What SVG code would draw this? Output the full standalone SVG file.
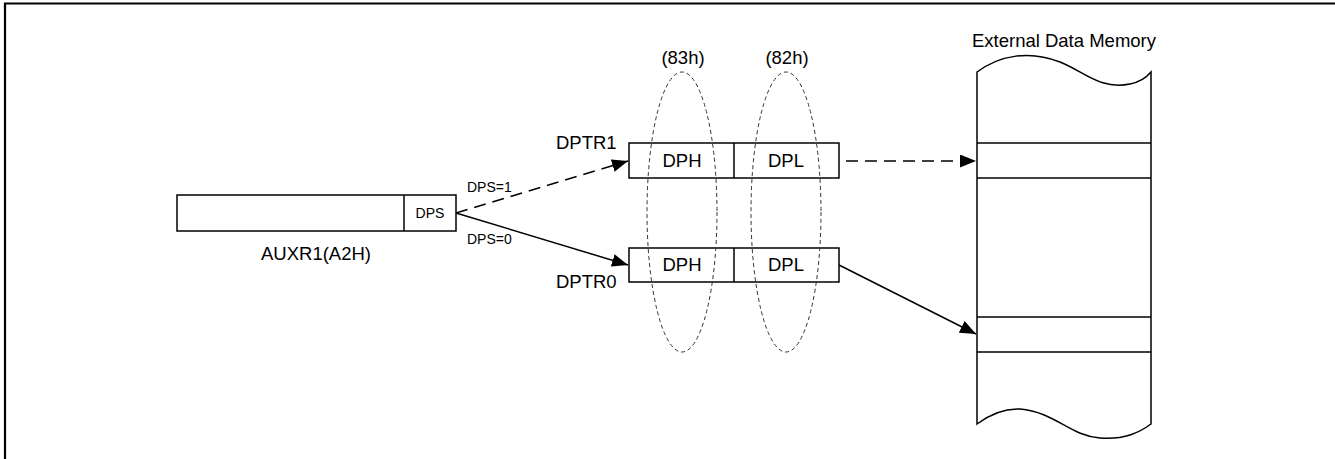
<svg xmlns="http://www.w3.org/2000/svg" width="1335" height="459" viewBox="0 0 1335 459">
<style>
text{font-family:"Liberation Sans",Arial,sans-serif;fill:#000}
.box{fill:#fff;stroke:#000;stroke-width:1.5}
.ln{fill:none;stroke:#000;stroke-width:1.5}
.big{font-size:18.5px}
.sm{font-size:14px}
.ell{fill:none;stroke:#333;stroke-width:1;stroke-dasharray:4 3}
</style>
<defs>
<marker id="ah" viewBox="0 0 16 13" refX="16" refY="6.5" markerWidth="16" markerHeight="13" markerUnits="userSpaceOnUse" orient="auto">
<path d="M0,0 L16,6.5 L0,13 Z" fill="#000"/>
</marker>
</defs>
<rect width="1335" height="459" fill="#fff"/>
<path d="M5,459 V3.5 H1335" fill="none" stroke="#000" stroke-width="2.2"/>

<g id="auxr1">
<rect class="box" x="177" y="195" width="279" height="36"/>
<line class="ln" x1="404" y1="195" x2="404" y2="231"/>
<text x="430" y="218" class="sm" text-anchor="middle">DPS</text>
<text x="316" y="260" class="big" text-anchor="middle">AUXR1(A2H)</text>
</g>

<g id="dptr1">
<rect class="box" x="629" y="143" width="210" height="35"/>
<line class="ln" x1="734" y1="143" x2="734" y2="178"/>
<text x="682" y="167" class="big" text-anchor="middle">DPH</text>
<text x="786" y="167" class="big" text-anchor="middle">DPL</text>
<text x="556" y="149" class="big">DPTR1</text>
</g>

<g id="dptr0">
<rect class="box" x="629" y="248" width="210" height="34"/>
<line class="ln" x1="734" y1="248" x2="734" y2="282"/>
<text x="682" y="271" class="big" text-anchor="middle">DPH</text>
<text x="786" y="271" class="big" text-anchor="middle">DPL</text>
<text x="556" y="288" class="big">DPTR0</text>
</g>

<g id="dph-group">
<ellipse class="ell" cx="682" cy="212" rx="35" ry="140"/>
<text x="683" y="64" class="big" text-anchor="middle">(83h)</text>
</g>
<g id="dpl-group">
<ellipse class="ell" cx="786" cy="212" rx="35" ry="140"/>
<text x="787" y="64" class="big" text-anchor="middle">(82h)</text>
</g>

<g id="memory">
<path class="box" d="M977,72 C1000,55 1030,50 1060,62 C1085,72 1100,90 1130,84 C1140,82 1146,78 1151,72 V424 C1140,432 1125,440 1100,438 C1070,436 1055,412 1020,409 C1000,408 985,418 977,424 Z"/>
<line class="ln" x1="977" y1="143" x2="1151" y2="143"/>
<line class="ln" x1="977" y1="178" x2="1151" y2="178"/>
<line class="ln" x1="977" y1="317" x2="1151" y2="317"/>
<line class="ln" x1="977" y1="352" x2="1151" y2="352"/>
<text x="1064" y="47" class="big" text-anchor="middle">External Data Memory</text>
</g>

<g id="connectors">
<line class="ln" x1="456" y1="213" x2="628" y2="161" stroke-dasharray="12 7" marker-end="url(#ah)"/>
<line class="ln" x1="456" y1="213" x2="628" y2="265" marker-end="url(#ah)"/>
<line class="ln" x1="846" y1="161" x2="976" y2="161" stroke-dasharray="12 7" marker-end="url(#ah)"/>
<line class="ln" x1="839" y1="265" x2="976" y2="334" marker-end="url(#ah)"/>
<text x="467" y="192" class="sm">DPS=1</text>
<text x="467" y="244" class="sm">DPS=0</text>
</g>
</svg>
